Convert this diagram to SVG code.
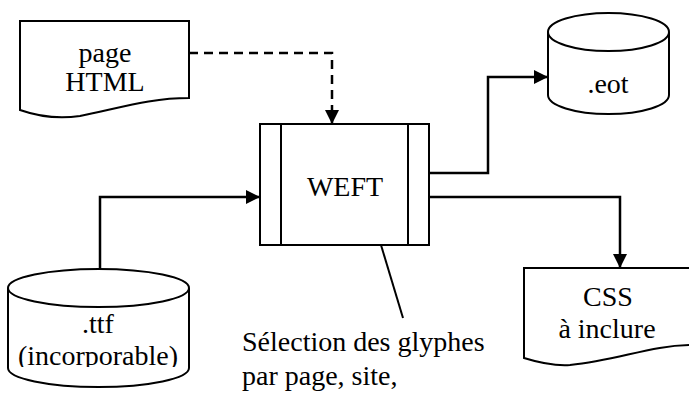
<svg xmlns="http://www.w3.org/2000/svg" width="689" height="395" viewBox="0 0 689 395">
<defs>
<marker id="arr" viewBox="0 0 10 10" refX="10" refY="5" markerWidth="14" markerHeight="14" markerUnits="userSpaceOnUse" orient="auto">
<path d="M0,0 L10,5 L0,10 Z" fill="#000"/>
</marker>
<clipPath id="ttfclip"><rect x="0" y="300" width="200" height="67"/></clipPath>
</defs>
<rect width="689" height="395" fill="#fff"/>
<g id="connectors" fill="none" stroke="#000" stroke-width="2.5">
<path stroke-dasharray="9,6" d="M189,53 H332 V124" marker-end="url(#arr)"/>
<path d="M100,268 V197 H260" marker-end="url(#arr)"/>
<path d="M429,173 H488 V77 H548" marker-end="url(#arr)"/>
<path d="M429,197 H620 V268" marker-end="url(#arr)"/>
<path stroke-width="2" d="M381,245 L403,318"/>
</g>
<g id="page-html">
<path fill="#fff" stroke="#000" stroke-width="2" d="M20,21 H189 V98 C150,98 120,108 80,116 C60,119 40,117 20,110 Z"/>
<text x="105" y="62" text-anchor="middle" font-family="Liberation Serif" font-size="28">page</text>
<text x="105" y="91" text-anchor="middle" font-family="Liberation Serif" font-size="28">HTML</text>
</g>
<g id="weft">
<rect fill="#fff" stroke="#000" stroke-width="2" x="260" y="124" width="169" height="121"/>
<line x1="281" y1="124" x2="281" y2="245" stroke="#000" stroke-width="2"/>
<line x1="408" y1="124" x2="408" y2="245" stroke="#000" stroke-width="2"/>
<text x="345" y="196" text-anchor="middle" font-family="Liberation Serif" font-size="28">WEFT</text>
</g>
<g id="eot">
<path fill="#fff" stroke="#000" stroke-width="2" d="M548,32 V95 A60.5,19 0 0 0 669,95 V32"/>
<ellipse fill="#fff" stroke="#000" stroke-width="2" cx="608.5" cy="32" rx="60.5" ry="19"/>
<text x="608" y="93" text-anchor="middle" font-family="Liberation Serif" font-size="28">.eot</text>
</g>
<g id="ttf">
<path fill="#fff" stroke="#000" stroke-width="2" d="M8,288 V368 A90.5,19 0 0 0 189,368 V288"/>
<ellipse fill="#fff" stroke="#000" stroke-width="2" cx="98.5" cy="288" rx="90.5" ry="19"/>
<text x="98" y="333" text-anchor="middle" font-family="Liberation Serif" font-size="28">.ttf</text>
<text x="98" y="365" text-anchor="middle" clip-path="url(#ttfclip)" font-family="Liberation Serif" font-size="28">(incorporable)</text>
</g>
<g id="css">
<path fill="#fff" stroke="#000" stroke-width="2" d="M524,268 H693 V345 C650,345 620,360 570,365 C555,366 540,363 524,358 Z"/>
<text x="608" y="306" text-anchor="middle" font-family="Liberation Serif" font-size="28">CSS</text>
<text x="607" y="338" text-anchor="middle" font-family="Liberation Serif" font-size="28">à inclure</text>
</g>
<g id="note">
<text x="242" y="351" font-family="Liberation Serif" font-size="28">Sélection des glyphes</text>
<text x="242" y="385" font-family="Liberation Serif" font-size="28">par page, site,</text>
</g>
</svg>
